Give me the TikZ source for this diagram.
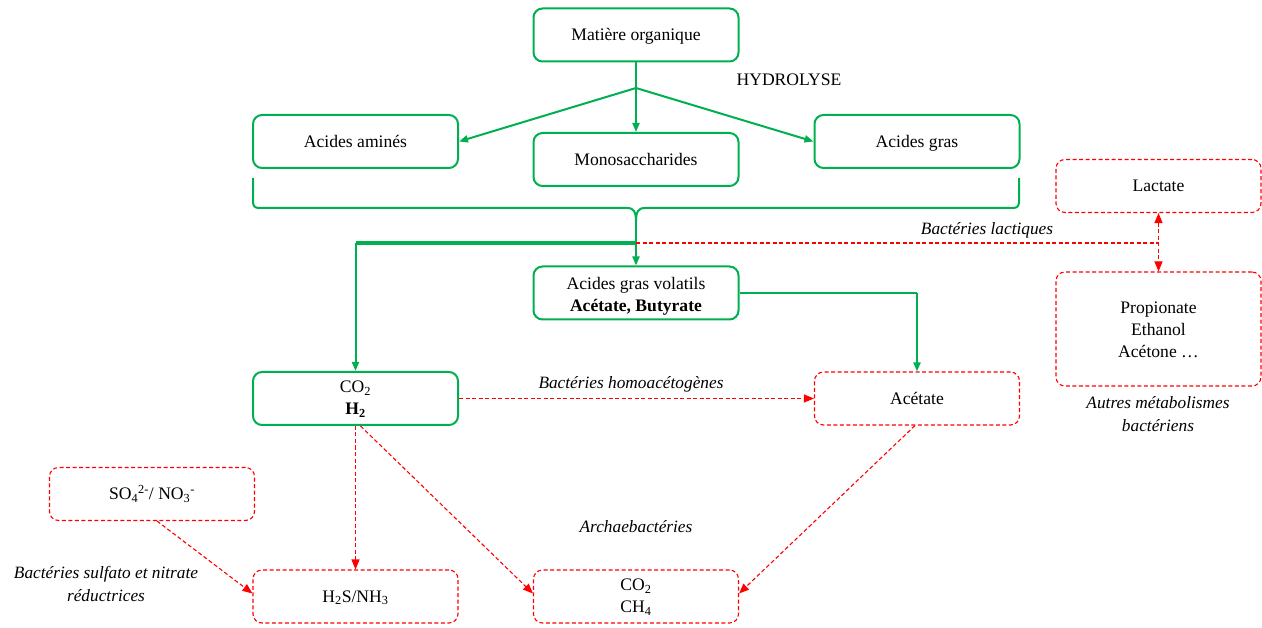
\documentclass[tikz,border=0pt]{standalone}
\usepackage{fontspec}
\setmainfont{Liberation Serif}
\usetikzlibrary{arrows.meta,calc}
\definecolor{grn}{RGB}{0,176,80}
\definecolor{rd}{RGB}{255,0,0}
\newcommand\bt[2][1.5pt]{\raisebox{-#1}[\height][\depth]{\begin{tabular}{@{}c@{}}#2\end{tabular}}}
\begin{document}
\begin{tikzpicture}[x=1pt,y=-1pt,
  every node/.style={font=\fontsize{17.6}{22}\selectfont},
  gbox/.style={draw=grn,line width=2pt,rounded corners=9pt,minimum width=205pt,minimum height=53pt,inner sep=0pt},
  rbox/.style={draw=rd,line width=1.1pt,dash pattern=on 4pt off 2.5pt,rounded corners=9pt,minimum width=205pt,minimum height=53pt,inner sep=0pt},
  gline/.style={draw=grn,line width=2pt},
  garr/.style={gline,-{Triangle[length=9pt,width=7pt]}},
  rline/.style={draw=rd,line width=1.1pt,dash pattern=on 4pt off 2.5pt},
  rarr/.style={rline,-{Triangle[length=10pt,width=8pt]}},
  lab/.style={align=center,inner sep=0pt,font=\fontsize{17.3}{23}\selectfont\itshape}
]
\useasboundingbox (0,0) rectangle (1262,628);

\node[gbox] (mat) at (636,35) {\bt{Matière organique}};
\node[gbox] (am) at (355.5,141.5) {\bt{Acides aminés}};
\node[gbox] (mono) at (636,159.5) {\bt{Monosaccharides}};
\node[gbox] (gras) at (917,141.5) {\bt{Acides gras}};
\node[gbox] (agv) at (636,293) {\bt[3pt]{Acides gras volatils\\\textbf{Acétate, Butyrate}}};
\node[gbox] (co2) at (355.5,398.5) {\bt[1pt]{CO\textsubscript{2}\\\textbf{H\textsubscript{2}}}};
\node[rbox] (acet) at (917,398.5) {\bt{Acétate}};
\node[rbox] (lact) at (1158.5,186) {\bt{Lactate}};
\node[rbox,minimum height=114pt] (prop) at (1158.5,329) {\bt[2pt]{Propionate\\Ethanol\\Acétone \dots}};
\node[rbox] (so4) at (152,494) {\bt{SO\textsubscript{4}\textsuperscript{2-}/ NO\textsubscript{3}\textsuperscript{-}}};
\node[rbox] (h2s) at (355.5,596.5) {\bt{H\textsubscript{2}S/NH\textsubscript{3}}};
\node[rbox] (ch4) at (636,596.5) {\bt[1pt]{CO\textsubscript{2}\\CH\textsubscript{4}}};

\node[inner sep=0pt] (hyd) at (789,80) {HYDROLYSE};
\node[lab] (lbl1) at (987,230) {Bactéries lactiques};
\node[lab] (lbl2) at (631,384) {Bactéries homoacétogènes};
\node[lab] (lbl3) at (636,527) {Archaebactéries};
\node[lab] (lbl4) at (106,584.5) {Bactéries sulfato et nitrate\\réductrices};
\node[lab] (lbl5) at (1158,414) {Autres métabolismes\\bactériens};

% hydrolysis
\coordinate (split) at (636,88);
\draw[gline] (mat.south) -- (split);
\draw[garr] (split) -- (am.east);
\draw[garr] (split) -- (mono.north);
\draw[garr] (split) -- (gras.west);

% brace
\coordinate (tip) at (636,243);
\draw[gline,line join=round] (253,178) -- (253,202) .. controls (253,206) and (255,208) .. (259,208)
  -- (627,208) .. controls (634,208) and (636,212) .. (636,222)
  .. controls (636,212) and (638,208) .. (645,208)
  -- (1013,208) .. controls (1017,208) and (1019,206) .. (1019,202) -- (1019,178);
\draw[garr] (636,222) -- (agv.north);
\draw[gline,line width=3.5pt] (tip) -- (co2.north |- tip);
\draw[garr] (co2.north |- tip) -- (co2.north);
\draw[gline] (agv.east) -- (acet.north |- agv.east);
\draw[garr] (acet.north |- agv.east) -- (acet.north);

% lactic
\draw[rline] (tip) -- (lact.south |- tip);
\draw[rarr,{Triangle[length=10pt,width=8pt]}-{Triangle[length=10pt,width=8pt]}] (lact.south) -- (prop.north);

% red arrows
\draw[rarr] (co2.east) -- (acet.west);
\draw[rarr] (co2.south) -- (h2s.north);
\draw[rarr] ([xshift=5pt]co2.south) -- ([yshift=3pt]ch4.west);
\draw[rarr] ([xshift=-2pt]acet.south) -- ([yshift=3pt]ch4.east);
\draw[rarr] ([xshift=5pt]so4.south) -- ([yshift=3pt]h2s.west);
\end{tikzpicture}
\end{document}
